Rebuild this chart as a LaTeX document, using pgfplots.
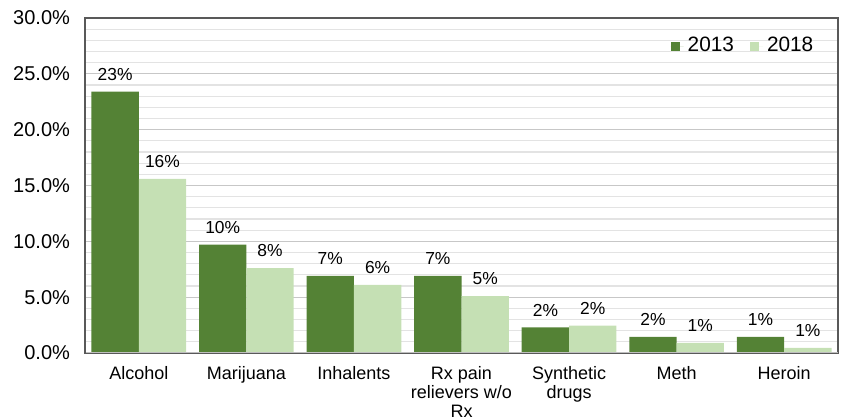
\documentclass[border=0pt]{standalone}
\usepackage{fontspec}
\setmainfont{Liberation Sans}
\usepackage{pgfplots}
\pgfplotsset{compat=1.18}
\definecolor{dk}{HTML}{548235}
\definecolor{lt}{HTML}{C5E0B4}
\begin{document}
\begin{tikzpicture}
\begin{axis}[
  scale only axis, width=376.5pt, height=167.5pt,
  ymin=0, ymax=30, xmin=-0.5, xmax=6.5,
  ybar=0pt, bar width=0.44,
  axis line style={draw=black!65, line width=0.8pt},
  ytick={0,5,...,30}, minor y tick num=4,
  ymajorgrids, yminorgrids,
  major grid style={draw=black!22, line width=0.6pt},
  minor grid style={draw=black!11, line width=0.6pt},
  major tick length=0pt, minor tick length=0pt,
  /pgf/number format/assume math mode=true,
  yticklabel={\pgfmathprintnumber[fixed,fixed zerofill,precision=1]{\tick}\%},
  yticklabel style={font=\fontsize{10}{11}\selectfont, xshift=-4pt},
  xtick={0,...,6},
  xticklabels={Alcohol, Marijuana, Inhalents, {Rx pain\\relievers w/o\\Rx}, {Synthetic\\drugs}, Meth, Heroin},
  xticklabel style={font=\fontsize{9}{9.5}\selectfont, align=center, yshift=-3pt},
  point meta=explicit symbolic,
  nodes near coords,
  nodes near coords style={font=\fontsize{8.7}{10}\selectfont, yshift=2pt},
  legend style={at={(rel axis cs:0.973,0.916)}, anchor=east, draw=none, fill=none,
    legend columns=2, font=\fontsize{10.4}{11}\selectfont,
    /tikz/every even column/.append style={column sep=6pt},
    inner sep=0pt},
  legend image code/.code={\fill[#1] (0pt,-2.3pt) rectangle (4.6pt,2.3pt); \path (0pt,0pt) -- (6.5pt,0pt);},
]
\addplot[fill=dk, draw=none] coordinates {
  (0,23.4) [23\%] (1,9.7) [10\%] (2,6.9) [7\%] (3,6.9) [7\%]
  (4,2.3) [2\%] (5,1.45) [2\%] (6,1.45) [1\%]};
\addplot[fill=lt, draw=none] coordinates {
  (0,15.6) [16\%] (1,7.6) [8\%] (2,6.1) [6\%] (3,5.1) [5\%]
  (4,2.45) [2\%] (5,0.9) [1\%] (6,0.45) [1\%]};
\legend{2013,2018}
\draw[draw=black!25, line width=0.8pt] (rel axis cs:0,0) -- (rel axis cs:1,0);
\draw[draw=black!65, line width=0.8pt] (rel axis cs:0,0) -- (rel axis cs:0,1);
\end{axis}
\pgfresetboundingbox
\path (current axis.south west) +(-42.5pt,-33.5pt) (current axis.north east) +(1.5pt,9pt);
\end{tikzpicture}
\end{document}
